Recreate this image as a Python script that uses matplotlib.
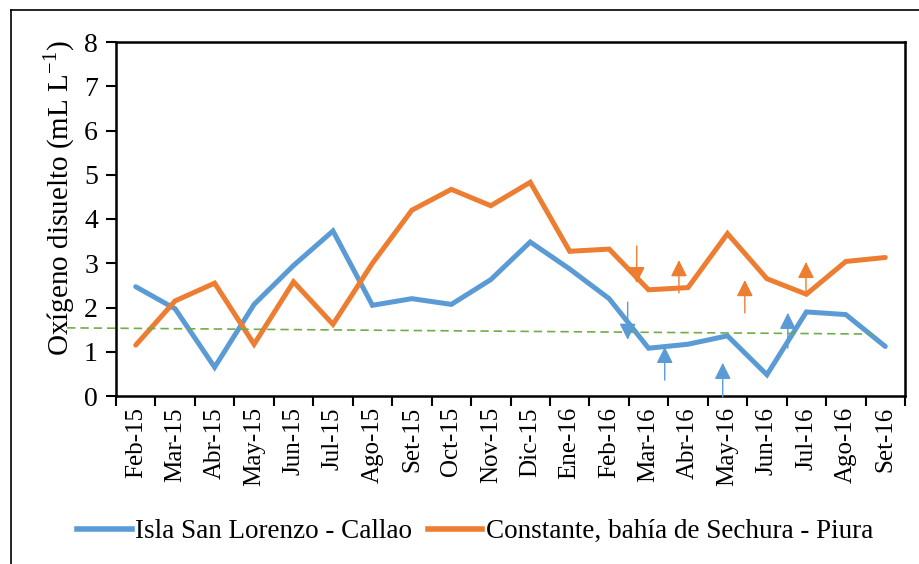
import numpy as np
import matplotlib
matplotlib.use('Agg')
import matplotlib.pyplot as plt
from matplotlib.lines import Line2D

plt.rcParams['font.family'] = ['Liberation Serif', 'DejaVu Serif']
plt.rcParams['mathtext.fontset'] = 'custom'
plt.rcParams['mathtext.rm'] = 'Liberation Serif'

# Data
months = ['Feb-15', 'Mar-15', 'Abr-15', 'May-15', 'Jun-15', 'Jul-15', 'Ago-15',
          'Set-15', 'Oct-15', 'Nov-15', 'Dic-15', 'Ene-16', 'Feb-16', 'Mar-16',
          'Abr-16', 'May-16', 'Jun-16', 'Jul-16', 'Ago-16', 'Set-16']
callao = [2.47, 1.97, 0.65, 2.07, 2.95, 3.73, 2.05, 2.2, 2.07, 2.63,
          3.48, 2.87, 2.2, 1.08, 1.17, 1.36, 0.48, 1.9, 1.84, 1.12]
sechura = [1.15, 2.15, 2.55, 1.17, 2.58, 1.62, 3.0, 4.2, 4.67, 4.3,
           4.83, 3.27, 3.32, 2.4, 2.45, 3.67, 2.65, 2.3, 3.04, 3.13]

# dashed trend line (start / end)
trend_x = [-1.74, 18.68]
trend_y = [1.54, 1.40]

# arrows: (x tail, y tail, x tip, y tip)
arrows_orange = [(12.7, 3.39, 12.7, 2.55), (13.77, 2.33, 13.77, 3.07),
                 (15.44, 1.88, 15.44, 2.62), (16.99, 2.35, 16.99, 3.03)]
arrows_blue = [(12.47, 2.12, 12.47, 1.27), (13.41, 0.36, 13.41, 1.11),
               (14.88, -0.02, 14.88, 0.75), (16.53, 1.08, 16.53, 1.88)]

blue = '#5B9BD5'
orange = '#ED7D31'
green = '#70AD47'

fig = plt.figure(figsize=(9.19, 5.64), dpi=100)
ax = fig.add_axes([116 / 919, 1 - 396 / 564, 789 / 919, 354 / 564])

x = np.arange(len(months))
ax.plot(x, callao, color=blue, lw=3.6, solid_capstyle='round', solid_joinstyle='miter',
        label='Isla San Lorenzo - Callao')
ax.plot(x, sechura, color=orange, lw=3.6, solid_capstyle='round', solid_joinstyle='miter',
        label='Constante, bahía de Sechura - Piura')
ax.plot(trend_x, trend_y, color=green, lw=1.2, ls=(0, (5, 3)), clip_on=False)

for xs, ys, xe, ye in arrows_orange:
    ax.annotate('', xy=(xe, ye), xytext=(xs, ys), annotation_clip=False,
                arrowprops=dict(arrowstyle='-|>,head_width=0.25,head_length=0.5',
                                color=orange, lw=1, mutation_scale=20,
                                shrinkA=0, shrinkB=0))
for xs, ys, xe, ye in arrows_blue:
    ax.annotate('', xy=(xe, ye), xytext=(xs, ys), annotation_clip=False,
                arrowprops=dict(arrowstyle='-|>,head_width=0.25,head_length=0.5',
                                color=blue, lw=1, mutation_scale=20,
                                shrinkA=0, shrinkB=0))

ax.set_xlim(-0.5, len(months) - 0.5)
ax.set_ylim(0, 8)
ax.set_yticks(range(0, 9))
ax.tick_params(axis='y', labelsize=20, direction='out', length=7, width=1.5, pad=6)
ax.set_xticks(x)
ax.set_xticklabels(months, rotation=90, fontsize=18)
ax.set_xticks(np.arange(-0.5, len(months)), minor=True)
ax.tick_params(axis='x', which='major', length=0, pad=8)
ax.tick_params(axis='x', which='minor', direction='out', length=7, width=1.5)
for s in ax.spines.values():
    s.set_linewidth(1.8)

ax.set_ylabel('Oxígeno disuelto (mL L$^{-1}$)', fontsize=21)
ax.yaxis.set_label_coords(-0.049, 0.56)

fig.legend(handles=[Line2D([], [], color=blue, lw=4), Line2D([], [], color=orange, lw=4)],
           labels=['Isla San Lorenzo - Callao', 'Constante, bahía de Sechura - Piura'],
           loc='center', bbox_to_anchor=(0.517, 0.057), ncol=2, frameon=False,
           fontsize=19.5, handlelength=2.0, handletextpad=0.12, columnspacing=0.6)

# outer chart frame
fig.add_artist(Line2D([11 / 919, 1.0], [1 - 10 / 564, 1 - 10 / 564], color='black', lw=1.2,
                      transform=fig.transFigure))
fig.add_artist(Line2D([11 / 919, 11 / 919], [1 - 10 / 564, 0], color='black', lw=1.2,
                      transform=fig.transFigure))

fig.savefig('out.png', dpi=100)
